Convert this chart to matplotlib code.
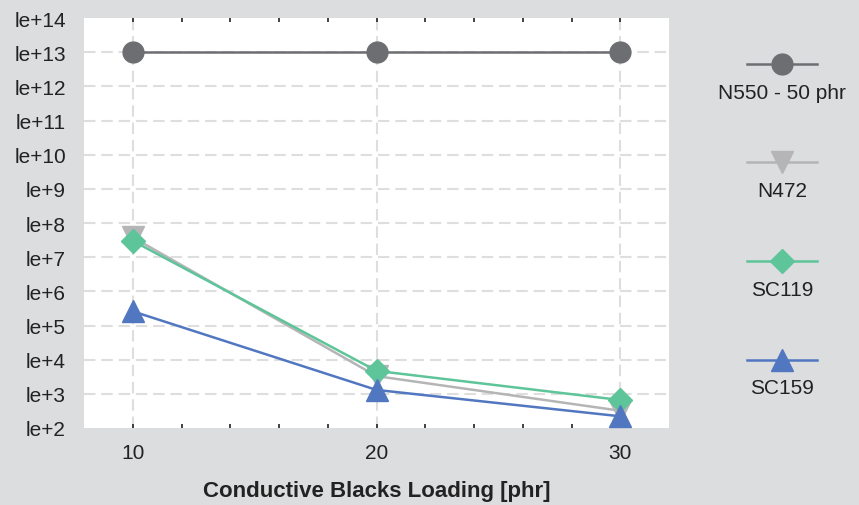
import matplotlib
matplotlib.use('Agg')
import matplotlib.pyplot as plt
from matplotlib.lines import Line2D
from matplotlib.ticker import FixedLocator

plt.rcParams['font.family'] = ['Liberation Sans', 'DejaVu Sans']

# Données
loading = [10, 20, 30]
n550 = [1e13, 1e13, 1e13]
n472 = [3.8e7, 3.3e3, 3.2e2]
sc119 = [3.0e7, 4.7e3, 6.6e2]
sc159 = [2.6e5, 1.3e3, 2.2e2]

series_names = ['N550 - 50 phr', 'N472', 'SC119', 'SC159']
series_colors = ['#6d6e71', '#b5b5b7', '#5ec49a', '#5277c1']
series_markers = ['o', 'v', 'D', '^']
series_sizes = [15, 16, 12, 16]

y_exponents = list(range(2, 15))
y_labels = [f'le+{e}' for e in y_exponents]
x_minor = list(range(10, 31, 2))

fig = plt.figure(figsize=(8.59, 5.06), dpi=100, facecolor='#dcdddf')
ax = fig.add_axes([84 / 859, 77 / 506, 585 / 859, 410 / 506])
ax.set_facecolor('white')

for vals, name, col, mk, ms in zip([n550, n472, sc119, sc159], series_names,
                                   series_colors, series_markers, series_sizes):
    ax.plot(loading, vals, color=col, marker=mk, markersize=ms, linewidth=1.8,
            label=name, zorder=3, clip_on=False)

ax.set_yscale('log')
ax.set_ylim(1e2, 1e14)
ax.set_xlim(8, 32)
ax.yaxis.set_major_locator(FixedLocator([10.0 ** e for e in y_exponents]))
ax.yaxis.set_minor_locator(FixedLocator([]))
ax.set_yticklabels(y_labels)
ax.set_xticks(loading)
ax.xaxis.set_minor_locator(FixedLocator(x_minor))

for s in ax.spines.values():
    s.set_visible(False)

ax.grid(True, which='major', color='#dedede', linewidth=1.5, linestyle=(0, (5.5, 2.8)), zorder=0)
ax.set_axisbelow(True)
# pas de ligne de grille sur les bords haut et bas
ticks_y = ax.yaxis.get_major_ticks()
ticks_y[0].gridline.set_visible(False)
ticks_y[-1].gridline.set_visible(False)

ax.tick_params(axis='y', which='both', length=0, pad=13, labelsize=15, labelcolor='#222222')
ax.tick_params(axis='x', which='major', direction='in', length=3, width=1.2, top=True,
               pad=11, labelsize=15, labelcolor='#222222', color='#222222')
ax.tick_params(axis='x', which='minor', direction='in', length=3, width=1.2, top=True,
               color='#222222')

ax.set_xlabel('Conductive Blacks Loading [phr]', fontsize=16, fontweight='bold',
              color='#222222', labelpad=13)

# Légende à droite : marqueur au-dessus, texte en dessous
leg_ax = fig.add_axes([680 / 859, 0, 179 / 859, 1])
leg_ax.set_xlim(680, 859)
leg_ax.set_ylim(506, 0)
leg_ax.axis('off')
leg_y = [65, 163, 262, 361]
for y, name, col, mk, ms in zip(leg_y, series_names, series_colors, series_markers, series_sizes):
    leg_ax.add_line(Line2D([747, 817], [y, y], color=col, linewidth=1.8))
    leg_ax.add_line(Line2D([782], [y], color=col, marker=mk, markersize=ms))
    leg_ax.text(782, y + 28, name, ha='center', va='center', fontsize=15, color='#222222')

fig.savefig('out.png', dpi=100, facecolor=fig.get_facecolor())
